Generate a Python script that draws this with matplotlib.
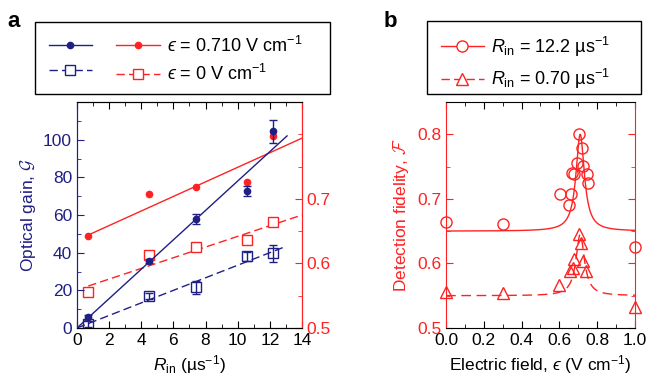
import matplotlib
matplotlib.use('Agg')
import matplotlib.pyplot as plt
import numpy as np
from matplotlib.lines import Line2D
from matplotlib.patches import Rectangle
from matplotlib.ticker import MultipleLocator

plt.rcParams['font.family'] = ['Liberation Sans', 'DejaVu Sans']
plt.rcParams['mathtext.fontset'] = 'custom'
plt.rcParams['mathtext.rm'] = 'Liberation Sans'
plt.rcParams['mathtext.it'] = 'Liberation Sans:italic'
plt.rcParams['mathtext.cal'] = 'cmsy10'
plt.rcParams['font.size'] = 12

navy = '#1f1f85'
red = '#ff2222'
EPS = '$\u03f5$'

# ---- panel a data ----
r_in = [0.7, 4.5, 7.4, 10.6, 12.2]
gain_on = [5.8, 35.5, 57.8, 72.8, 104.5]       # eps = 0.710
gain_on_err = [1.0, 1.0, 2.5, 2.5, 6.0]
gain_off = [2.0, 17.0, 21.7, 38.0, 39.8]       # eps = 0
gain_off_err = [1.5, 1.5, 3.5, 2.5, 4.5]
fid_on = [0.643, 0.707, 0.718, 0.726, 0.798]
fid_off = [0.555, 0.613, 0.625, 0.636, 0.664]

# linear fits (end points)
fit_gain_on_x, fit_gain_on_y = [0, 13.07], [0, 102]
fit_gain_off_x, fit_gain_off_y = [0, 12.9], [0, 43]
fit_fid_on_x, fit_fid_on_y = [0.7, 14], [0.644, 0.794]
fit_fid_off_x, fit_fid_off_y = [0.7, 14], [0.565, 0.675]

# ---- panel b data ----
field_hi = [0.0, 0.30, 0.603, 0.651, 0.660, 0.665, 0.679, 0.695, 0.705,
            0.721, 0.727, 0.744, 0.750, 1.0]
fid_hi = [0.664, 0.661, 0.708, 0.691, 0.707, 0.740, 0.739, 0.755, 0.800,
          0.779, 0.751, 0.738, 0.724, 0.625]
field_lo = [0.0, 0.30, 0.60, 0.656, 0.670, 0.679, 0.705, 0.714, 0.727, 0.741, 1.0]
fid_lo = [0.556, 0.554, 0.567, 0.588, 0.593, 0.607, 0.645, 0.632, 0.604, 0.588, 0.532]

# Lorentzian fit parameters: baseline, amplitude, centre, half width
lor_hi = (0.650, 0.150, 0.710, 0.027)
lor_lo = (0.550, 0.095, 0.710, 0.027)


def lorentz(x, base, amp, x0, g):
    return base + amp * g**2 / ((x - x0)**2 + g**2)


W, H = 649, 391
fig = plt.figure(figsize=(W / 100, H / 100), dpi=100)


def frame_box(x0, y0, x1, y1):
    # legend frame given in pixel coords from the top-left corner
    fig.patches.append(Rectangle((x0 / W, 1 - y1 / H), (x1 - x0) / W, (y1 - y0) / H,
                                 transform=fig.transFigure, fill=False,
                                 edgecolor='black', lw=1))


# ================= panel a =================
ax = fig.add_axes([0.1186, 0.1611, 0.3467, 0.578])
ax2 = ax.twinx()
ax.set_zorder(ax2.get_zorder() + 1)
ax.patch.set_visible(False)

ax2.plot(fit_fid_on_x, fit_fid_on_y, color=red, lw=1)
ax2.plot(fit_fid_off_x, fit_fid_off_y, color=red, lw=1, dashes=(6, 3))
ax2.plot(r_in, fid_on, 'o', color=red, ms=4.5)
ax2.plot(r_in, fid_off, 's', color=red, mfc='white', ms=7, mew=1)

ax.plot(fit_gain_on_x, fit_gain_on_y, color=navy, lw=1)
ax.plot(fit_gain_off_x, fit_gain_off_y, color=navy, lw=1, dashes=(6, 3))
ax.errorbar(r_in, gain_on, yerr=gain_on_err, fmt='o', color=navy, ms=4.5,
            capsize=3, elinewidth=1, capthick=1)
ax.errorbar(r_in, gain_off, yerr=gain_off_err, fmt='s', color=navy, mfc='none',
            ms=7, mew=1, capsize=3, elinewidth=1, capthick=1)

ax.set_xlim(0, 14)
ax.set_ylim(0, 120)
ax2.set_ylim(0.5, 0.85)
ax.xaxis.set_major_locator(MultipleLocator(2))
ax.xaxis.set_minor_locator(MultipleLocator(1))
ax.yaxis.set_major_locator(MultipleLocator(20))
ax.yaxis.set_minor_locator(MultipleLocator(10))
ax2.yaxis.set_major_locator(MultipleLocator(0.1))
ax2.yaxis.set_minor_locator(MultipleLocator(0.05))
ax.set_yticks([0, 20, 40, 60, 80, 100])
ax2.set_yticks([0.5, 0.6, 0.7])

ax.tick_params(axis='x', which='both', direction='in', top=True, colors='black')
ax.tick_params(axis='x', which='major', length=5, labelsize=12.5)
ax.tick_params(axis='x', which='minor', length=3)
ax.tick_params(axis='y', which='both', direction='in', colors=navy, labelsize=12.5)
ax.tick_params(axis='y', which='major', length=5)
ax.tick_params(axis='y', which='minor', length=3)
ax2.tick_params(axis='y', which='both', direction='in', colors=red, labelsize=12.5)
ax2.tick_params(axis='y', which='major', length=5)
ax2.tick_params(axis='y', which='minor', length=3)
ax2.spines['left'].set_color(navy)
ax2.spines['right'].set_color(red)
ax.spines['left'].set_color(navy)
ax.spines['right'].set_color(red)

ax.set_xlabel(r'$R_{\rm in}$ (µs$^{-1}$)', fontsize=12.5, labelpad=4)
ax.set_ylabel(r'Optical gain, $\mathcal{G}$', color=navy, fontsize=12.5, labelpad=4)

h_a = [Line2D([], [], color=navy, marker='o', ms=4.5, lw=1),
       Line2D([], [], color=navy, marker='s', mfc='white', ms=7, lw=1, dashes=(6, 3)),
       Line2D([], [], color=red, marker='o', ms=4.5, lw=1),
       Line2D([], [], color=red, marker='s', mfc='white', ms=7, lw=1, dashes=(6, 3))]
lab_a = ['', '', EPS + r' = 0.710 V cm$^{-1}$', EPS + r' = 0 V cm$^{-1}$']
fig.legend(h_a, lab_a, ncol=2, loc='upper left',
           bbox_to_anchor=(35 / W, 1 - 22 / H), borderaxespad=0, fontsize=13,
           frameon=False, handlelength=2.4, columnspacing=0.95, handletextpad=0.4,
           borderpad=0.75, labelspacing=0.45)
frame_box(35, 22, 330, 94)

fig.text(0.012, 0.93, 'a', fontsize=16, fontweight='bold')

# ================= panel b =================
bx = fig.add_axes([0.6872, 0.1611, 0.2912, 0.578])
xs = np.linspace(0, 1, 600)
bx.plot(xs, lorentz(xs, *lor_hi), color=red, lw=1)
bx.plot(xs, lorentz(xs, *lor_lo), color=red, lw=1, dashes=(7, 4))
bx.plot(field_hi, fid_hi, 'o', color=red, mfc='none', ms=8, mew=1, clip_on=False)
bx.plot(field_lo, fid_lo, '^', color=red, mfc='none', ms=8, mew=1, clip_on=False)

bx.set_xlim(0, 1)
bx.set_ylim(0.5, 0.85)
bx.xaxis.set_major_locator(MultipleLocator(0.2))
bx.xaxis.set_minor_locator(MultipleLocator(0.1))
bx.set_yticks([0.5, 0.6, 0.7, 0.8])
bx.yaxis.set_minor_locator(MultipleLocator(0.05))
bx.tick_params(axis='x', which='both', direction='in', top=True, labelsize=12.5)
bx.tick_params(axis='y', which='both', direction='in', right=True, colors=red, labelsize=12.5)
bx.tick_params(which='major', length=5)
bx.tick_params(which='minor', length=3)
bx.spines['left'].set_color(red)
bx.spines['right'].set_color(red)
bx.set_xlabel('Electric field, ' + EPS + r' (V cm$^{-1}$)', fontsize=12.5, labelpad=4)
bx.set_ylabel(r'Detection fidelity, $\mathcal{F}$', color=red, fontsize=12.5, labelpad=4)

h_b = [Line2D([], [], color=red, marker='o', mfc='white', ms=8, lw=1),
       Line2D([], [], color=red, marker='^', mfc='white', ms=8, lw=1, dashes=(6, 3))]
lab_b = [r'$R_{\rm in}$ = 12.2 µs$^{-1}$', r'$R_{\rm in}$ = 0.70 µs$^{-1}$']
fig.legend(h_b, lab_b, loc='upper left', bbox_to_anchor=(427 / W, 1 - 21 / H),
           borderaxespad=0, fontsize=13, frameon=False, handlelength=2.4,
           handletextpad=0.4, borderpad=0.75, labelspacing=0.45)
frame_box(427, 21, 641, 94)

fig.text(384 / W, 0.93, 'b', fontsize=16, fontweight='bold')

fig.savefig('out.png', dpi=100)
